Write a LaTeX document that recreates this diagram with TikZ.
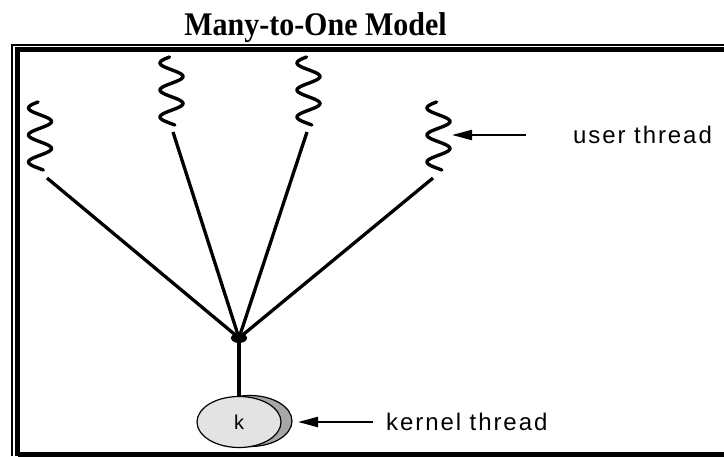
\documentclass[tikz,border=0pt]{standalone}
\usepackage{fontspec}
\setmainfont{Liberation Serif}
\newfontfamily\labelfont[LetterSpace=8]{Liberation Sans}
\newfontfamily\kfont{Liberation Sans}
\usetikzlibrary{shapes.geometric,arrows.meta}

\tikzset{
  link/.style={line width=3.3pt},
  wave/.style={line width=3.4pt, line cap=round},
  pointer/.style={line width=2.2pt, -{Triangle[length=20pt,width=10pt]}},
  caption/.style={font=\labelfont\fontsize{24}{26}\selectfont, anchor=base west, inner sep=0pt},
  squig/.pic={\draw[wave] plot[domain=0:68, samples=80, smooth] ({-11.5*cos(180*(\x-6)/13.5)}, \x);},
}

\begin{document}
\begin{tikzpicture}[x=1pt, y=-1pt]
\useasboundingbox (0,0) rectangle (724,456);

% double frame
\draw[line width=2pt] (12,456) -- (12,44.5) -- (724,44.5);
\draw[line width=4.5pt] (17.5,456) -- (17.5,49.5) -- (724,49.5);
\draw[line width=5pt] (17.5,454) -- (724,454);

% title
\node[anchor=base, inner sep=0pt, font=\bfseries\fontsize{30}{32}\selectfont] (title) at (315.5,35) {\scalebox{1}[1.1]{Many-to-One Model}};

% user threads
\pic at (40,102) {squig};
\pic at (171.5,57) {squig};
\pic at (308.5,57) {squig};
\pic at (438.5,102) {squig};

\coordinate (s1) at (47,178);
\coordinate (s2) at (173,132);
\coordinate (s3) at (307,132);
\coordinate (s4) at (433,178);

% kernel thread
\node[ellipse, draw, line width=1.2pt, fill=gray!70, minimum width=84pt, minimum height=51pt, inner sep=0pt] (kshade) at (250,421) {};
\node[ellipse, draw, line width=1.2pt, fill=gray!22, minimum width=84pt, minimum height=51pt, inner sep=0pt, font=\kfont\fontsize{20}{22}\selectfont] (k) at (239,422) {k};

% junction
\node[ellipse, fill=black, minimum width=16pt, minimum height=10pt, inner sep=0pt] (j) at (239,338) {};

\draw[link] (s1) -- (j.center);
\draw[link] (s2) -- (j.center);
\draw[link] (s3) -- (j.center);
\draw[link] (s4) -- (j.center);
\draw[link] (j.center) -- (k.north);

% labels with pointers
\node[caption] (ut) at (573,143) {user thread};
\node[caption] (kt) at (386,430) {kernel thread};
\coordinate (utail) at (526,135);
\coordinate (utip) at (452,135);
\coordinate (ktail) at (373,422);
\coordinate (ktip) at (298,422);
\draw[pointer] (utail) -- (utip);
\draw[pointer] (ktail) -- (ktip);
\end{tikzpicture}
\end{document}
